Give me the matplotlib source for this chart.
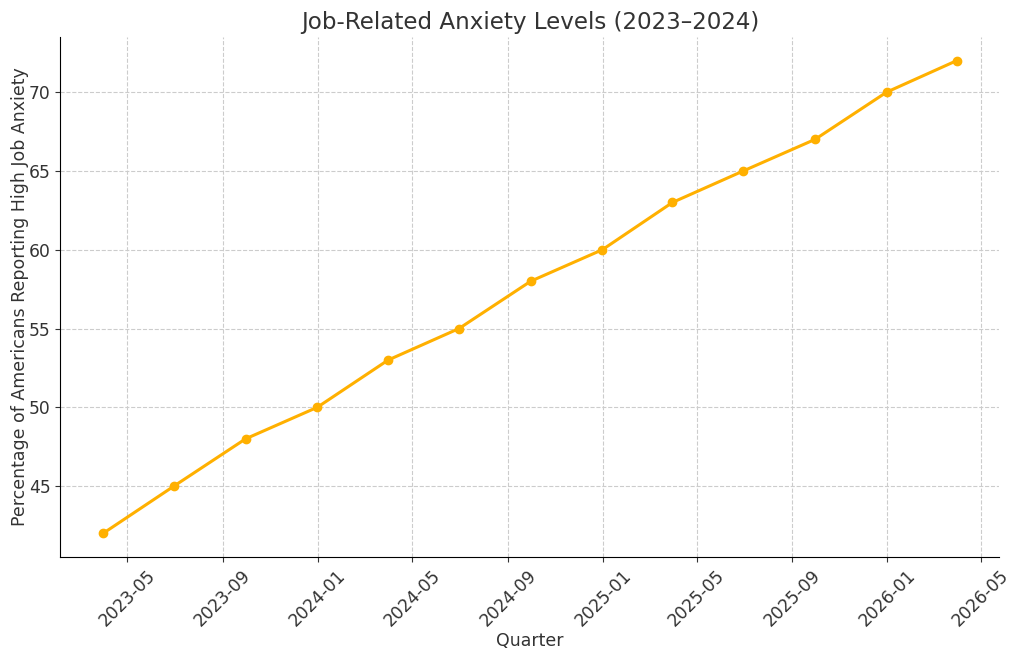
import numpy as np
import pandas as pd
import matplotlib
matplotlib.use('Agg')
import matplotlib.pyplot as plt
import matplotlib.dates as mdates

# quarter-end dates and anxiety percentages
quarters = pd.date_range(start='2023-03-31', periods=13, freq='QE')
anxiety = [42, 45, 48, 50, 53, 55, 58, 60, 63, 65, 67, 70, 72]

plt.rcParams['font.family'] = ['DejaVu Sans']
plt.rcParams['text.color'] = '#333333'
plt.rcParams['axes.labelcolor'] = '#333333'
plt.rcParams['xtick.color'] = '#333333'
plt.rcParams['ytick.color'] = '#333333'

fig, ax = plt.subplots(figsize=(10.23, 6.6), dpi=100)
ax.plot(quarters, anxiety, marker='o', color='#FFB000', linewidth=2.2, markersize=6)

ax.set_title('Job-Related Anxiety Levels (2023–2024)', fontsize=16.6)
ax.set_xlabel('Quarter', fontsize=12.5, labelpad=1)
ax.set_ylabel('Percentage of Americans Reporting High Job Anxiety', fontsize=12.5, labelpad=0)
ax.xaxis.set_major_locator(mdates.MonthLocator(bymonth=[1, 5, 9]))
ax.xaxis.set_major_formatter(mdates.DateFormatter('%Y-%m'))
ax.tick_params(axis='both', labelsize=12.3)
plt.setp(ax.get_xticklabels(), rotation=45)
ax.grid(True, linestyle='--', color='#cccccc', linewidth=0.8)
ax.spines['top'].set_visible(False)
ax.spines['right'].set_visible(False)

plt.subplots_adjust(left=0.059, right=0.977, top=0.944, bottom=0.156)
plt.savefig('out.png', dpi=100)
